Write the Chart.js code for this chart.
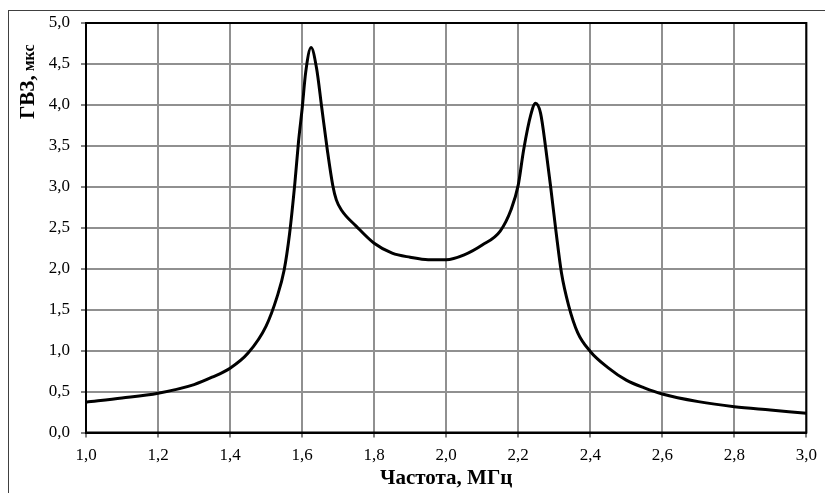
<!DOCTYPE html>
<html>
<head>
<meta charset="utf-8">
<script src="https://cdn.jsdelivr.net/npm/chart.js@4.4.1/dist/chart.umd.min.js"></script>
<style>
html,body{margin:0;padding:0;background:#fff;}
#wrap{width:825px;height:493px;position:relative;}
</style>
</head>
<body>
<div id="wrap"><canvas id="c" width="825" height="493"></canvas></div>
<script>
const frequency = [1.0,1.1,1.2,1.3,1.35,1.4,1.45,1.5,1.53,1.55,1.565,1.58,1.59,1.6,1.61,1.625,1.64,1.655,1.67,1.685,1.695,1.71,1.75,1.8,1.85,1.9,1.95,2.0,2.05,2.1,2.15,2.18,2.2,2.215,2.235,2.248,2.262,2.277,2.29,2.305,2.32,2.34,2.365,2.4,2.45,2.5,2.55,2.6,2.7,2.8,2.9,3.0];
const delay = [0.37,0.42,0.48,0.585,0.675,0.785,0.97,1.3,1.65,1.98,2.42,3.05,3.55,3.95,4.4,4.70,4.45,3.95,3.45,3.02,2.84,2.71,2.52,2.31,2.19,2.14,2.11,2.11,2.17,2.29,2.46,2.72,3.02,3.45,3.88,4.02,3.9,3.45,3.0,2.45,1.95,1.55,1.22,0.99,0.79,0.64,0.545,0.47,0.377,0.315,0.275,0.235];
const xTitle = 'Частота, МГц';
const yTitleMain = 'ГВЗ,';
const yTitleUnit = ' мкс';

const fmt = v => Number(v).toFixed(1).replace('.', ',');
const points = frequency.map((f, i) => ({x: f, y: delay[i]}));

const frame = {
  id: 'frame',
  beforeDraw(chart) {
    const ctx = chart.ctx;
    ctx.save();
    ctx.fillStyle = '#fff';
    ctx.fillRect(0, 0, chart.width, chart.height);
    ctx.strokeStyle = '#404040';
    ctx.lineWidth = 1;
    ctx.strokeRect(8.5, 10.5, 1000, 700);
    ctx.restore();
  },
  afterDraw(chart) {
    const a = chart.chartArea, ctx = chart.ctx;
    ctx.save();
    ctx.strokeStyle = '#000';
    ctx.lineWidth = 2;
    ctx.strokeRect(a.left, a.top, a.right - a.left, a.bottom - a.top);
    // y axis title with mixed font sizes
    ctx.translate(34, 119);
    ctx.rotate(-Math.PI / 2);
    ctx.fillStyle = '#000';
    ctx.textAlign = 'left';
    ctx.textBaseline = 'alphabetic';
    ctx.font = 'bold 21px "Liberation Serif"';
    ctx.fillText(yTitleMain, 0, 0);
    const w = ctx.measureText(yTitleMain).width;
    ctx.font = 'bold 16px "Liberation Serif"';
    ctx.fillText(yTitleUnit, w, 0);
    ctx.restore();
  }
};

new Chart(document.getElementById('c'), {
  type: 'line',
  data: {
    datasets: [{
      data: points,
      borderColor: '#000',
      borderWidth: 3,
      pointRadius: 0,
      fill: false,
      cubicInterpolationMode: 'monotone'
    }]
  },
  options: {
    responsive: false,
    animation: false,
    layout: {padding: {left: 0, top: 23, right: 17, bottom: 0}},
    plugins: {legend: {display: false}, tooltip: {enabled: false}},
    scales: {
      x: {
        type: 'linear', min: 1, max: 3,
        afterFit(s) { s.height = 60.5; },
        ticks: {stepSize: 0.2, color: '#000', padding: 8, maxRotation: 0,
          font: {family: 'Liberation Serif', size: 17}, callback: v => fmt(v)},
        grid: {color: '#909090', lineWidth: 2, tickLength: 5, tickColor: '#000', tickWidth: 1},
        border: {color: '#000', width: 2},
        title: {display: true, text: xTitle, color: '#000', padding: {top: 0, bottom: 2},
          font: {family: 'Liberation Serif', size: 21, weight: 'bold'}}
      },
      y: {
        min: 0, max: 5,
        afterFit(s) { s.width = 86; },
        ticks: {stepSize: 0.5, color: '#000', padding: 11,
          font: {family: 'Liberation Serif', size: 17}, callback: v => fmt(v)},
        grid: {color: '#909090', lineWidth: 2, tickLength: 5, tickColor: '#000', tickWidth: 1},
        border: {color: '#000', width: 2}
      }
    }
  },
  plugins: [frame]
});
</script>
</body>
</html>
